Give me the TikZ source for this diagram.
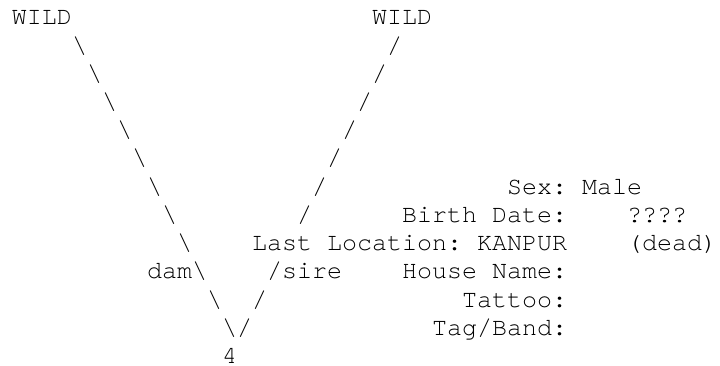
\documentclass[tikz,border=0pt]{standalone}
\usepackage{fontspec}
\setmonofont{TeX Gyre Cursor}
\tikzset{
  asc/.style={anchor=base west, inner sep=0pt, outer sep=0pt,
    font=\ttfamily\fontsize{18.75}{22}\selectfont, text=black}
}
% place a token at character column #2, text row #3
\newcommand{\asctok}[4]{\node[asc] (#1) at ({12+15*#2},{-25-28.2*#3}) {#4};}
\begin{document}
\begin{tikzpicture}[x=0.75pt,y=0.75pt]
\useasboundingbox (0,0) rectangle (720,-366);
% founders
\asctok{wildL}{0}{0}{WILD}
\asctok{wildR}{24}{0}{WILD}
% pedigree lines
\foreach \r in {1,...,7}{
  \node[asc] (bs\r) at ({12+15*(\r+3)},{-25-28.2*\r}) {\textbackslash};
}
\foreach \r in {1,...,7}{
  \node[asc] (fs\r) at ({12+15*(26-\r)},{-25-28.2*\r}) {/};
}
\asctok{bs8}{11}{8}{\textbackslash}
\asctok{dam}{9}{9}{dam\textbackslash}
\asctok{sire}{17}{9}{/sire}
\asctok{bs10}{13}{10}{\textbackslash}
\asctok{fs10}{16}{10}{/}
\asctok{bs11}{14}{11}{\textbackslash}
\asctok{fs11}{15}{11}{/}
\asctok{id}{14}{12}{4}
% data
\asctok{sex}{33}{6}{Sex: Male}
\asctok{birth}{26}{7}{Birth Date:}
\asctok{bdate}{41}{7}{????}
\asctok{loc}{16}{8}{Last Location: KANPUR}
\asctok{dead}{41}{8}{(dead)}
\asctok{house}{26}{9}{House Name:}
\asctok{tattoo}{30}{10}{Tattoo:}
\asctok{tag}{28}{11}{Tag/Band:}
\end{tikzpicture}
\end{document}
